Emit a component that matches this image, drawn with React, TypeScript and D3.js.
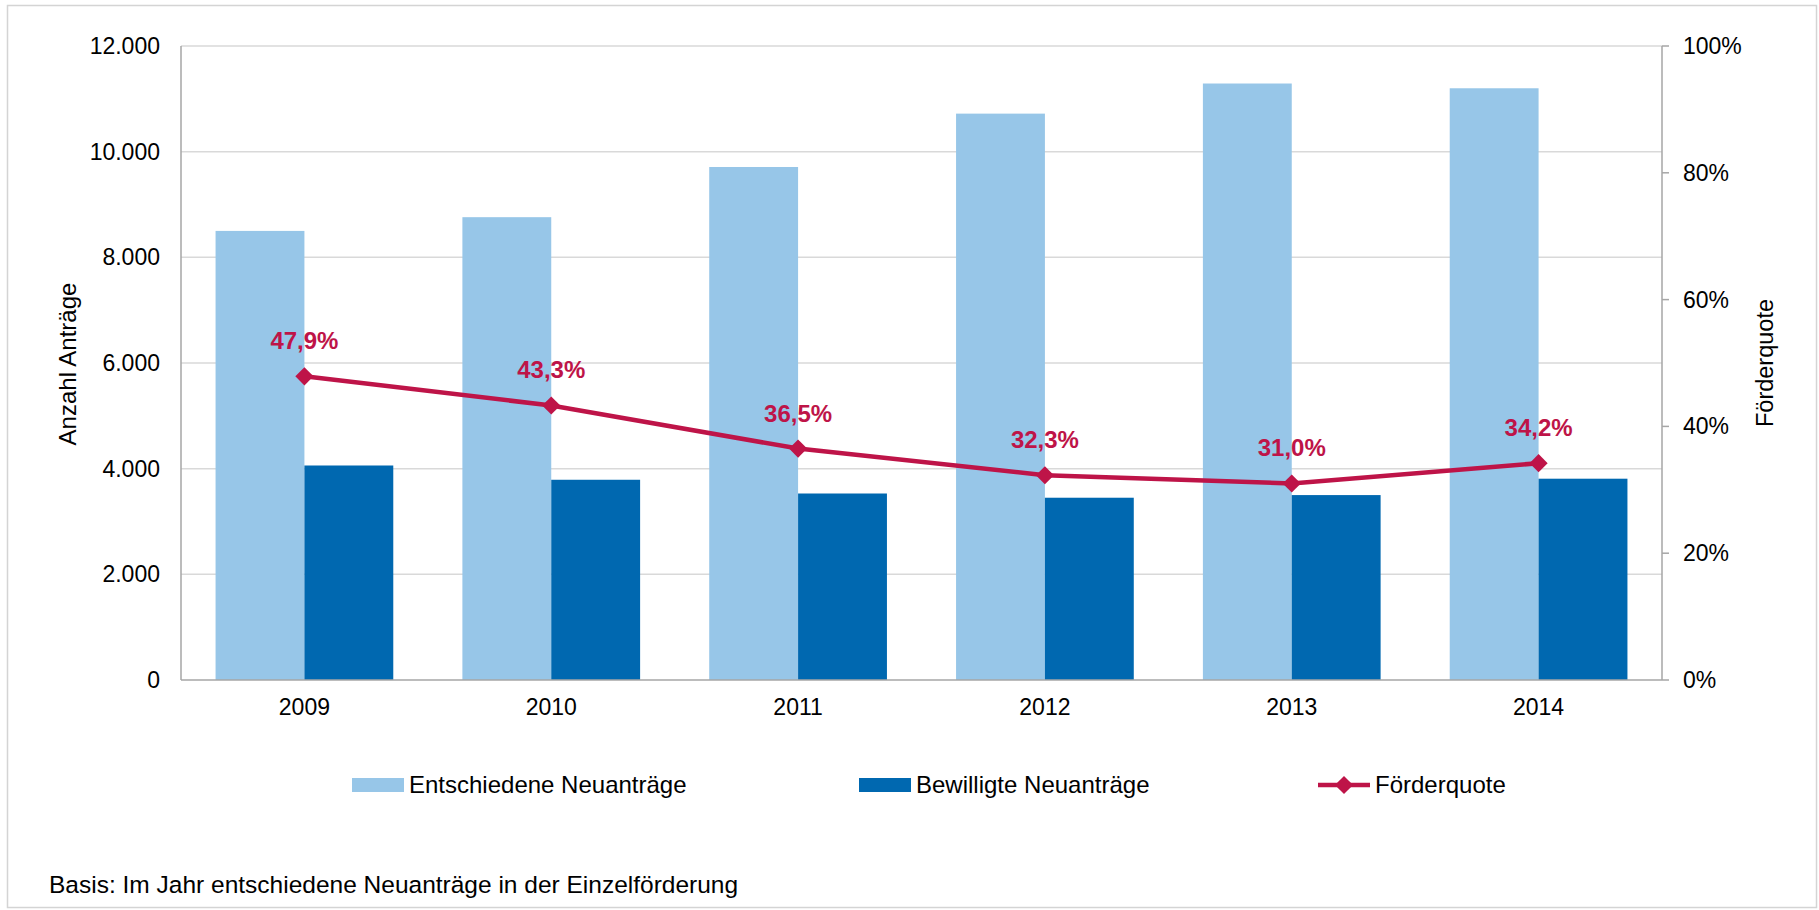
import React, { useEffect, useRef } from 'react'
import * as d3 from 'd3'

// Jahre und Werte
const years = ['2009', '2010', '2011', '2012', '2013', '2014']
const entschieden = [8500, 8760, 9710, 10720, 11290, 11200]
const bewilligt = [4060, 3790, 3530, 3450, 3500, 3810]
const quote = [47.9, 43.3, 36.5, 32.3, 31.0, 34.2]
const leftTicks = [0, 2000, 4000, 6000, 8000, 10000, 12000]
const rightTicks = [0, 20, 40, 60, 80, 100]

const W = 1819
const H = 910
const FONT = '"Liberation Sans", Arial, sans-serif'
const LIGHT = '#97C6E8'
const DARK = '#0068B0'
const RED = '#BE1448'

const App = () => {
  const ref = useRef<SVGSVGElement>(null)

  useEffect(() => {
    const svg = d3.select(ref.current)
    svg.selectAll('*').remove()

    const left = 181
    const right = 1662
    const top = 46
    const bottom = 680

    // Rahmen
    svg
      .append('rect')
      .attr('x', 7.5)
      .attr('y', 5.5)
      .attr('width', 1809)
      .attr('height', 902)
      .attr('fill', 'white')
      .attr('stroke', '#d4d4d4')
      .attr('stroke-width', 1.5)

    const x = d3.scaleBand().domain(years).range([left, right])
    const y = d3.scaleLinear().domain([0, 12000]).range([bottom, top])
    const y2 = d3.scaleLinear().domain([0, 100]).range([bottom, top])
    const barW = x.bandwidth() * 0.36

    // Gitterlinien
    svg
      .selectAll('.grid')
      .data(leftTicks.filter((d) => d > 0))
      .enter()
      .append('line')
      .attr('x1', left)
      .attr('x2', right)
      .attr('y1', (d) => y(d))
      .attr('y2', (d) => y(d))
      .attr('stroke', '#d9d9d9')
      .attr('stroke-width', 1.5)

    // Säulen
    svg
      .selectAll('.bar-light')
      .data(entschieden)
      .enter()
      .append('rect')
      .attr('x', (d, i) => x(years[i])! + x.bandwidth() / 2 - barW)
      .attr('y', (d) => y(d))
      .attr('width', barW)
      .attr('height', (d) => bottom - y(d))
      .attr('fill', LIGHT)
    svg
      .selectAll('.bar-dark')
      .data(bewilligt)
      .enter()
      .append('rect')
      .attr('x', (d, i) => x(years[i])! + x.bandwidth() / 2)
      .attr('y', (d) => y(d))
      .attr('width', barW)
      .attr('height', (d) => bottom - y(d))
      .attr('fill', DARK)

    // Achsen
    const axisColor = '#a6a6a6'
    svg
      .append('line')
      .attr('x1', left)
      .attr('x2', left)
      .attr('y1', top)
      .attr('y2', bottom)
      .attr('stroke', axisColor)
      .attr('stroke-width', 1.5)
    svg
      .append('line')
      .attr('x1', right)
      .attr('x2', right)
      .attr('y1', top)
      .attr('y2', bottom)
      .attr('stroke', axisColor)
      .attr('stroke-width', 1.5)
    svg
      .append('line')
      .attr('x1', left)
      .attr('x2', right)
      .attr('y1', bottom)
      .attr('y2', bottom)
      .attr('stroke', axisColor)
      .attr('stroke-width', 1.5)
    svg
      .selectAll('.rtick')
      .data(rightTicks)
      .enter()
      .append('line')
      .attr('x1', right)
      .attr('x2', right + 7)
      .attr('y1', (d) => y2(d))
      .attr('y2', (d) => y2(d))
      .attr('stroke', axisColor)
      .attr('stroke-width', 1.5)

    const fmt = d3.formatLocale({
      decimal: ',',
      thousands: '.',
      grouping: [3],
      currency: ['', '€']
    })
    const fmtInt = fmt.format(',d')
    const fmtPct = fmt.format('.1f')

    svg
      .selectAll('.ltxt')
      .data(leftTicks)
      .enter()
      .append('text')
      .attr('x', 160)
      .attr('y', (d) => y(d))
      .attr('dy', '0.35em')
      .attr('text-anchor', 'end')
      .style('font-size', '23px')
      .text((d) => fmtInt(d))
    svg
      .selectAll('.rtxt')
      .data(rightTicks)
      .enter()
      .append('text')
      .attr('x', 1683)
      .attr('y', (d) => y2(d))
      .attr('dy', '0.35em')
      .style('font-size', '23px')
      .text((d) => d + '%')
    svg
      .selectAll('.xtxt')
      .data(years)
      .enter()
      .append('text')
      .attr('x', (d) => x(d)! + x.bandwidth() / 2)
      .attr('y', 715)
      .attr('text-anchor', 'middle')
      .style('font-size', '23px')
      .text((d) => d)

    // Achsentitel
    svg
      .append('text')
      .attr('transform', 'translate(76,364) rotate(-90)')
      .attr('text-anchor', 'middle')
      .style('font-size', '24px')
      .text('Anzahl Anträge')
    svg
      .append('text')
      .attr('transform', 'translate(1773,363) rotate(-90)')
      .attr('text-anchor', 'middle')
      .style('font-size', '23.5px')
      .text('Förderquote')

    // Förderquote Linie
    const cx = (i: number) => x(years[i])! + x.bandwidth() / 2
    const line = d3
      .line<number>()
      .x((d, i) => cx(i))
      .y((d) => y2(d))
    svg
      .append('path')
      .datum(quote)
      .attr('d', line)
      .attr('fill', 'none')
      .attr('stroke', RED)
      .attr('stroke-width', 4.5)
    const diamond = d3.symbol().type(d3.symbolDiamond2).size(210)
    svg
      .selectAll('.marker')
      .data(quote)
      .enter()
      .append('path')
      .attr('d', diamond)
      .attr('transform', (d, i) => `translate(${cx(i)},${y2(d)})`)
      .attr('fill', RED)
    svg
      .selectAll('.lbl')
      .data(quote)
      .enter()
      .append('text')
      .attr('x', (d, i) => cx(i))
      .attr('y', (d) => y2(d) - 27)
      .attr('text-anchor', 'middle')
      .attr('fill', RED)
      .style('font-size', '24px')
      .style('font-weight', 'bold')
      .text((d) => fmtPct(d) + '%')

    // Legende
    const ly = 785
    const leg = [
      { name: 'Entschiedene Neuanträge', x: 352, kind: 'light' },
      { name: 'Bewilligte Neuanträge', x: 859, kind: 'dark' },
      { name: 'Förderquote', x: 1318, kind: 'line' }
    ]
    leg.forEach((l) => {
      if (l.kind === 'line') {
        svg
          .append('line')
          .attr('x1', l.x)
          .attr('x2', l.x + 52)
          .attr('y1', ly)
          .attr('y2', ly)
          .attr('stroke', RED)
          .attr('stroke-width', 4.5)
        svg
          .append('path')
          .attr('d', diamond)
          .attr('transform', `translate(${l.x + 26},${ly})`)
          .attr('fill', RED)
      } else {
        svg
          .append('rect')
          .attr('x', l.x)
          .attr('y', ly - 7)
          .attr('width', 52)
          .attr('height', 14)
          .attr('fill', l.kind === 'light' ? LIGHT : DARK)
      }
      svg
        .append('text')
        .attr('x', l.x + 57)
        .attr('y', ly)
        .attr('dy', '0.35em')
        .style('font-size', '24px')
        .text(l.name)
    })

    svg
      .append('text')
      .attr('x', 49)
      .attr('y', 893)
      .style('font-size', '24.5px')
      .text('Basis: Im Jahr entschiedene Neuanträge in der Einzelförderung')
  }, [])

  return (
    <svg
      ref={ref}
      width={W}
      height={H}
      style={{ position: 'absolute', left: 0, top: 0, fontFamily: FONT }}
    />
  )
}

export default App
